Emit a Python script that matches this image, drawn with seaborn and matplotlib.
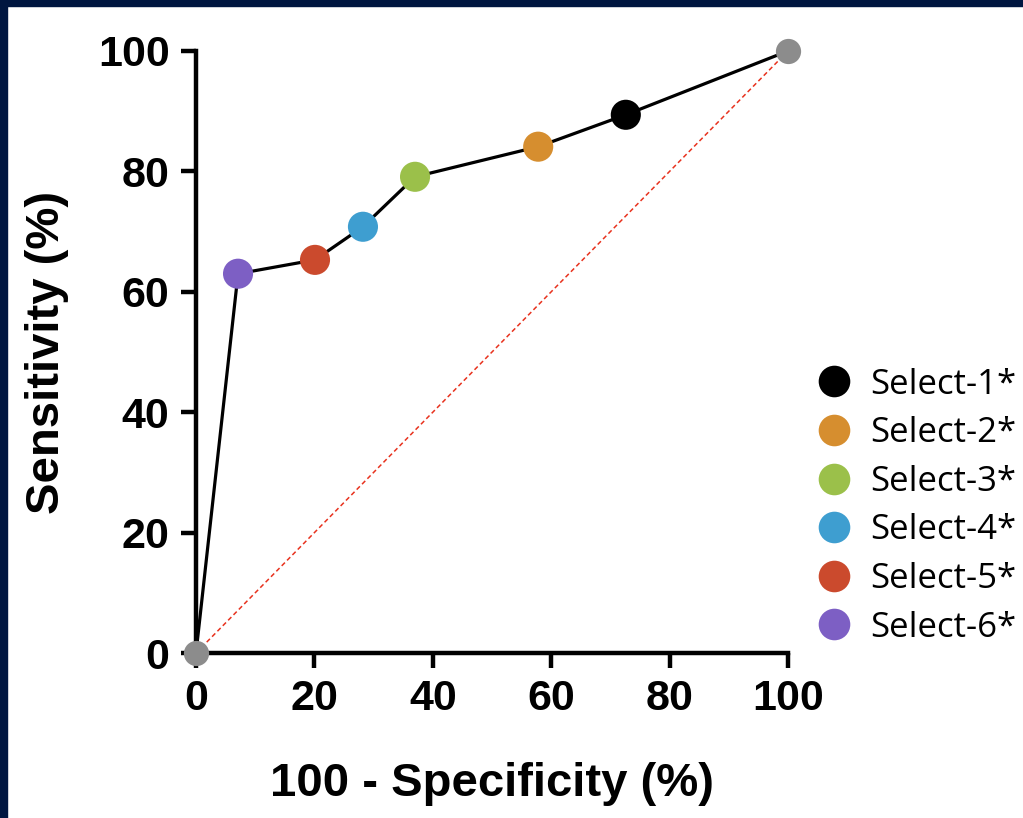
import matplotlib
matplotlib.use('Agg')
import matplotlib.pyplot as plt
import matplotlib.patches as mpatches
import numpy as np
import pandas as pd
import seaborn as sns

sns.set_style('ticks', {'axes.edgecolor': 'black', 'xtick.color': 'black',
                        'ytick.color': 'black', 'text.color': 'black',
                        'axes.labelcolor': 'black'})
plt.rcParams['font.family'] = ['Liberation Sans', 'DejaVu Sans']

# ROC points (100 - specificity, sensitivity)
labels = ['Select-1*', 'Select-2*', 'Select-3*', 'Select-4*', 'Select-5*', 'Select-6*']
fpr = [72.6, 57.8, 37.0, 28.2, 20.1, 7.1]
sens = [89.4, 84.1, 79.1, 70.8, 65.3, 63.0]
colors = ['#000000', '#D68E2F', '#9BC04A', '#3E9ED0', '#CB4A2D', '#7D5FC4']

# full curve incl. end points
curve_x = [0] + fpr[::-1] + [100]
curve_y = [0] + sens[::-1] + [100]

fig = plt.figure(figsize=(10.23, 8.18), dpi=100)
ax = fig.add_axes([0.1916, 0.2017, 0.5787, 0.736])

# diagonal reference line
ax.plot([0, 100], [0, 100], color='#E8321E', lw=1.1, ls=(0, (3, 2)), zorder=1)

sns.lineplot(x=curve_x, y=curve_y, sort=False, color='black', lw=2.3, ax=ax, zorder=2)

# gray end points
ax.scatter([0, 100], [0, 100], s=330, color='#8C8C8C', zorder=3, linewidths=0, clip_on=False)

df = pd.DataFrame({'x': fpr, 'y': sens, 'label': labels})
sns.scatterplot(data=df, x='x', y='y', hue='label', palette=colors, hue_order=labels,
                s=470, linewidth=0, ax=ax, zorder=4, clip_on=False)

ax.set_xlim(0, 100)
ax.set_ylim(0, 100)
ax.set_xticks(np.arange(0, 101, 20))
ax.set_yticks(np.arange(0, 101, 20))
ax.tick_params(axis='both', length=11, width=3.2, labelsize=31, pad=8, colors='black')
for t in ax.get_xticklabels() + ax.get_yticklabels():
    t.set_fontweight('bold')
for side in ['left', 'bottom']:
    ax.spines[side].set_linewidth(3.2)
    ax.spines[side].set_color('black')
sns.despine(ax=ax)

ax.set_xlabel('100 - Specificity (%)', fontsize=34, fontweight='bold', labelpad=31, color='black')
ax.set_ylabel('Sensitivity (%)', fontsize=34, fontweight='bold', labelpad=21, color='black')

handles, _ = ax.get_legend_handles_labels()
leg = ax.legend(handles=handles, labels=labels, loc='center left',
                bbox_to_anchor=(0.99, 0.244), frameon=False, markerscale=1.05,
                handletextpad=0.45, labelspacing=0.42, handlelength=1.2,
                prop={'family': 'Open Sans', 'size': 25})

# dark frame on top and left edges
fig.patches.append(mpatches.Rectangle((0, 1 - 6 / 818), 1, 6 / 818, transform=fig.transFigure,
                                      color='#001640', zorder=0))
fig.patches.append(mpatches.Rectangle((0, 0), 7 / 1023, 1, transform=fig.transFigure,
                                      color='#001640', zorder=0))

fig.savefig('out.png', dpi=100)
